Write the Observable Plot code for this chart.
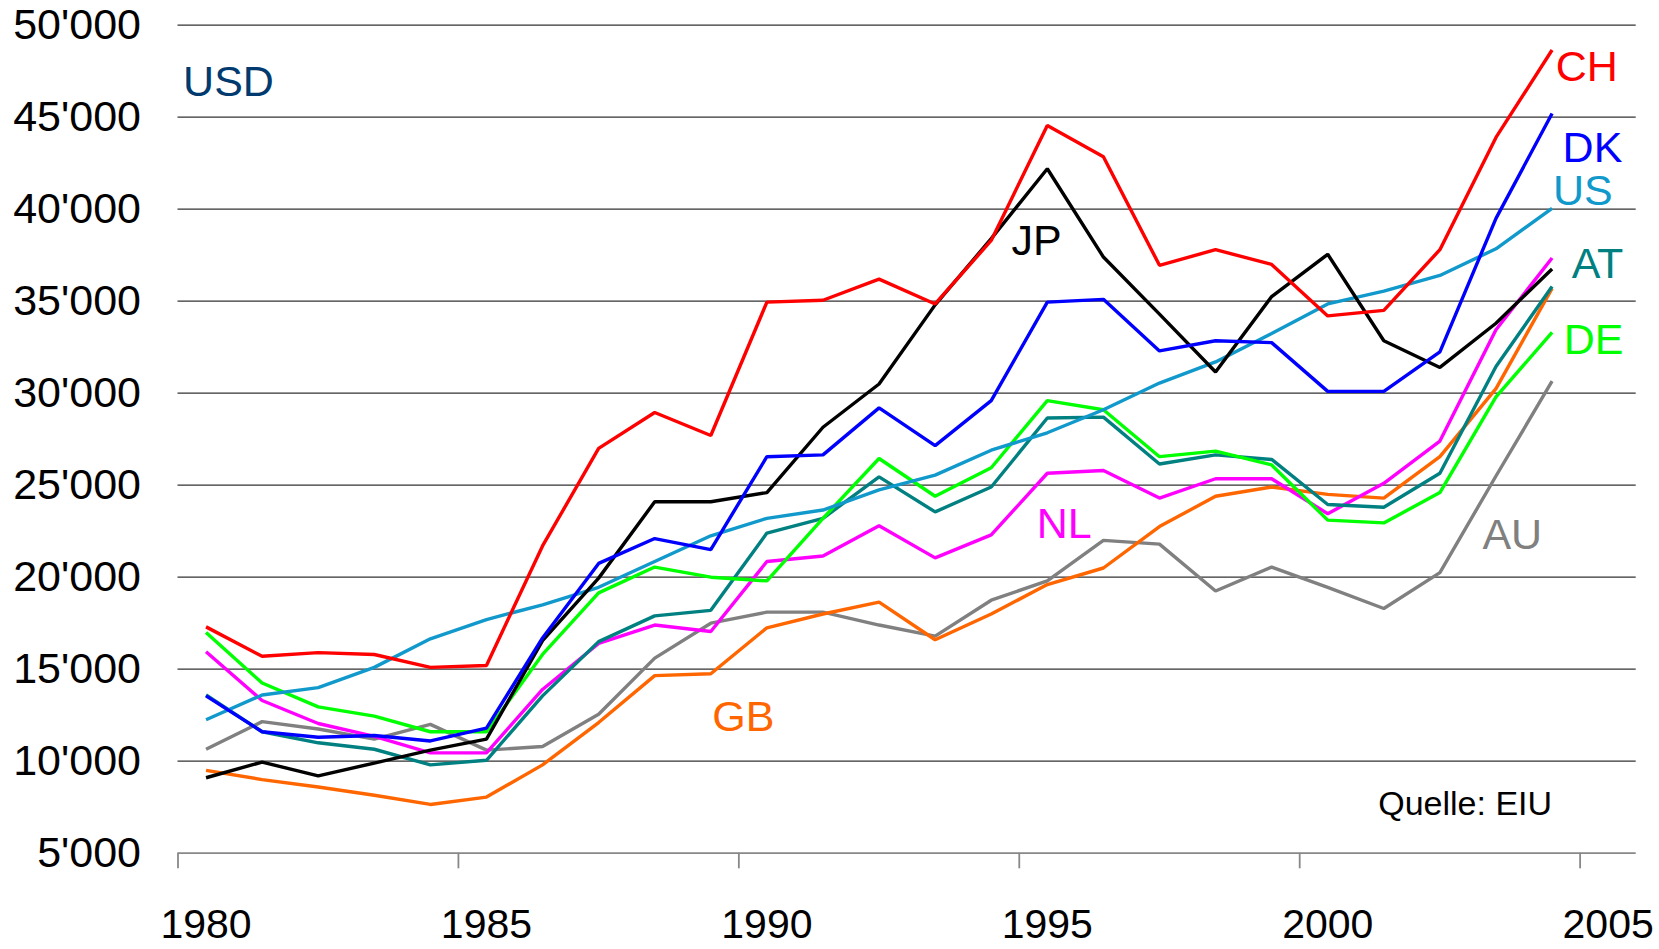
<!DOCTYPE html>
<html>
<head>
<meta charset="utf-8">
<script src="https://cdn.jsdelivr.net/npm/d3@7"></script>
<script src="https://cdn.jsdelivr.net/npm/@observablehq/plot@0.6"></script>
<style>
  html, body { margin: 0; padding: 0; background: #fff; overflow: hidden; }
  #chart svg { display: block; }
</style>
</head>
<body>
<div id="chart"></div>
<script>
// ---- data (USD per capita, 1980–2004) ----
const years = d3.range(1980, 2005);
const CH = [17300, 15700, 15900, 15800, 15100, 15200, 21700, 27000, 28950, 27700, 34950, 35050, 36200, 34850, 38300, 44550, 42850, 36950, 37800, 37000, 34200, 34500, 37800, 43900, 48650];
const DK = [13550, 11600, 11300, 11400, 11100, 11800, 16700, 20750, 22100, 21500, 26550, 26650, 29200, 27150, 29600, 34950, 35100, 32300, 32850, 32750, 30100, 30100, 32250, 39500, 45200];
const US = [12250, 13600, 14000, 15100, 16650, 17700, 18500, 19450, 20850, 22250, 23200, 23650, 24750, 25550, 26900, 27850, 29100, 30550, 31700, 33250, 34850, 35550, 36400, 37850, 40050];
const AT = [13600, 11600, 11000, 10650, 9800, 10050, 13550, 16500, 17900, 18200, 22400, 23200, 25450, 23550, 24900, 28650, 28700, 26150, 26650, 26400, 23950, 23800, 25650, 31450, 35800];
const DE = [17000, 14250, 12950, 12450, 11600, 11600, 15800, 19150, 20550, 20000, 19800, 23200, 26450, 24400, 25950, 29600, 29100, 26550, 26850, 26100, 23100, 22950, 24600, 29800, 33300];
const NL = [15950, 13300, 12050, 11350, 10450, 10450, 13900, 16400, 17400, 17050, 20850, 21150, 22800, 21050, 22300, 25650, 25800, 24300, 25350, 25350, 23450, 25100, 27400, 33450, 37350];
const GB = [9500, 9000, 8600, 8150, 7650, 8050, 9800, 12100, 14650, 14750, 17250, 18000, 18650, 16600, 18000, 19600, 20500, 22750, 24400, 24900, 24500, 24300, 26550, 30250, 35700];
const AU = [10650, 12150, 11750, 11200, 12000, 10600, 10800, 12550, 15600, 17500, 18100, 18100, 17400, 16800, 18750, 19800, 22000, 21800, 19250, 20550, 19450, 18300, 20250, 25500, 30650];
const JP = [9100, 9950, 9200, 9900, 10600, 11200, 16550, 19950, 24100, 24100, 24600, 28150, 30500, 34800, 38400, 42200, 37400, 34300, 31150, 35250, 37550, 32850, 31400, 33800, 36750];

// drawing order (first = bottom)
const countries = ["AU", "GB", "NL", "AT", "DE", "US", "JP", "DK", "CH"];
const seriesValues = {CH, DK, US, AT, DE, NL, GB, AU, JP};
const countryColors = ["#808080", "#FF6600", "#FF00FF", "#008080", "#00FF00", "#1199CC", "#000000", "#0000FF", "#FF0000"];

const yTicks = [5000, 10000, 15000, 20000, 25000, 30000, 35000, 40000, 45000, 50000];
const xTicks = [1980, 1985, 1990, 1995, 2000, 2005];

// annotation labels (data-space positions)
const labelText = ["CH", "DK", "US", "AT", "DE", "AU", "NL", "GB", "JP"];
const labelYear = [2005.12, 2005.22, 2005.05, 2005.31, 2005.24, 2003.79, 1995.80, 1990.08, 1995.31];
const labelValue = [47700, 43300, 41000, 37000, 32900, 22300, 22900, 12400, 38250];
const unitLabel = "USD";
const sourceLabel = "Quelle: EIU";

// ---- build table ----
const rows = [];
for (const c of countries) {
  seriesValues[c].forEach((v, i) => rows.push({country: c, year: years[i] + 0.5, value: v}));
}
const labels = labelText.map((t, i) => ({country: t, year: labelYear[i], value: labelValue[i]}));

const fmt = d3.formatLocale({decimal: ".", thousands: "'", grouping: [3], currency: ["", ""]}).format(",");
const font = "'Liberation Sans', Arial, sans-serif";

const chart = Plot.plot({
  width: 1659,
  height: 949,
  marginLeft: 177.5,
  marginRight: 23.3,
  marginTop: 24.7,
  marginBottom: 96.3,
  style: {fontFamily: font, fontSize: "43px", color: "#000", background: "#fff"},
  x: {domain: [1980, 2006]},
  y: {domain: [5000, 50000]},
  color: {domain: countries, range: countryColors},
  marks: [
    Plot.ruleY(yTicks.filter(d => d > 5000), {stroke: "#333", strokeWidth: 1.3}),
    Plot.ruleY([5000], {stroke: "#888", strokeWidth: 1.8}),
    Plot.axisY({ticks: yTicks, tickSize: 0, tickPadding: 37, tickFormat: fmt, fontSize: 43, label: null, letterSpacing: -1}),
    Plot.axisX({ticks: xTicks, tickSize: 15.6, tickFormat: () => "", stroke: "#888", strokeWidth: 1.8, label: null}),
    Plot.axisX({ticks: xTicks.map(d => d + 0.5), tickSize: 0, tickPadding: 56, tickFormat: d => String(Math.round(d - 0.5)), fontSize: 41, label: null, letterSpacing: -0.8}),
    Plot.line(rows, {x: "year", y: "value", z: "country", stroke: "country", strokeWidth: 3.4, strokeLinejoin: "miter", strokeLinecap: "butt"}),
    Plot.text(labels, {x: "year", y: "value", text: "country", fill: "country", fontSize: 43, textAnchor: "middle", lineAnchor: "middle"}),
    Plot.text([unitLabel], {x: 1980.9, y: 46900, text: d => d, fill: "#003A6E", fontSize: 43, textAnchor: "middle", lineAnchor: "middle"}),
    Plot.text([sourceLabel], {x: 2002.95, y: 7650, text: d => d, fill: "#000", fontSize: 34, textAnchor: "middle", lineAnchor: "middle"})
  ]
});
document.getElementById("chart").appendChild(chart);
</script>
</body>
</html>
